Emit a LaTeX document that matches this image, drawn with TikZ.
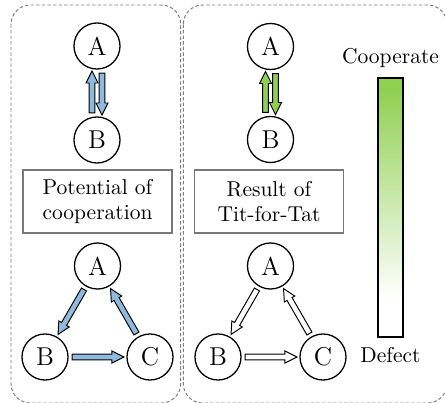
\documentclass[tikz,border=0pt]{standalone}
\usetikzlibrary{calc}
\definecolor{arrblue}{RGB}{143,186,222}
\definecolor{arrgreen}{RGB}{143,208,80}
\definecolor{panelgray}{RGB}{125,125,125}
\definecolor{boxgray}{RGB}{120,120,120}
% #1 style, #2 from node, #3 to node, #4 start gap (pt), #5 end gap (pt), #6 lateral offset (pt)
\newcommand\fatarrow[6]{%
  \pgfpointdiff{\pgfpointanchor{#2}{center}}{\pgfpointanchor{#3}{center}}%
  \pgfgetlastxy{\faDx}{\faDy}%
  \pgfmathsetmacro\faAng{atan2(\faDy,\faDx)}%
  \pgfmathsetmacro\faLen{veclen(\faDx,\faDy)}%
  \pgfmathsetmacro\faE{\faLen-#5}%
  \pgfmathsetmacro\faB{\faE-5.6}%
  \pgfmathsetmacro\faYl{#6-1.35}%
  \pgfmathsetmacro\faYr{#6+1.35}%
  \pgfmathsetmacro\faHl{#6-2.8}%
  \pgfmathsetmacro\faHr{#6+2.8}%
  \begin{scope}[shift={(#2.center)},rotate=\faAng]
    \draw[#1] ({#4*1pt},{\faYl*1pt}) -- ({\faB*1pt},{\faYl*1pt}) -- ({\faB*1pt},{\faHl*1pt})
      -- ({\faE*1pt},{#6*1pt}) -- ({\faB*1pt},{\faHr*1pt}) -- ({\faB*1pt},{\faYr*1pt})
      -- ({#4*1pt},{\faYr*1pt}) -- cycle;
  \end{scope}}
\begin{document}
\begin{tikzpicture}[x=0.465pt,y=-0.465pt,
  vert/.style={circle,draw,line width=0.6pt,minimum size=21.4pt,inner sep=0pt,font=\large},
  panel/.style={draw=panelgray,dash pattern=on 1.6pt off 1pt,line width=0.45pt,rounded corners=9pt},
  labelbox/.style={draw=boxgray,line width=0.5pt,minimum width=69.3pt,minimum height=29.3pt,align=center,inner sep=0pt},
  bluearr/.style={draw=black,line width=0.45pt,fill=arrblue,line join=miter},
  greenarr/.style={draw=black,line width=0.45pt,fill=arrgreen,line join=miter},
  openarr/.style={draw=black,line width=0.45pt,fill=white,line join=miter}]
\useasboundingbox (0,0) rectangle (445,402);
\begin{scope}
  \clip (0,0) rectangle (445,402);
  \draw[panel] (11,5) rectangle (180.7,403);
  \draw[panel] (183.3,5) rectangle (447,403);
\end{scope}
% left panel
\node[vert] (A1) at (97,46) {A};
\node[vert] (B1) at (97,140) {B};
\node[labelbox] (P) at (97.5,201.5) {Potential of\\cooperation};
\node[vert] (A2) at (97.5,266) {A};
\node[vert] (B2) at (45,357) {B};
\node[vert] (C2) at (150,357) {C};
\fatarrow{bluearr}{B1}{A1}{12.6}{11.6}{2.3}
\fatarrow{bluearr}{A1}{B1}{12.6}{11.6}{2.3}
\fatarrow{bluearr}{A2}{B2}{12.6}{12.1}{0}
\fatarrow{bluearr}{B2}{C2}{12.6}{12.1}{0}
\fatarrow{bluearr}{C2}{A2}{12.6}{12.1}{0}
% right panel
\node[vert] (A3) at (270.5,46.5) {A};
\node[vert] (B3) at (270.5,139.5) {B};
\node[labelbox] (R) at (269,201.5) {Result of\\Tit-for-Tat};
\node[vert] (A4) at (270.5,266) {A};
\node[vert] (B4) at (218,357) {B};
\node[vert] (C4) at (323,357) {C};
\fatarrow{greenarr}{B3}{A3}{12.6}{11.6}{2.3}
\fatarrow{greenarr}{A3}{B3}{12.6}{11.6}{2.3}
\fatarrow{openarr}{A4}{B4}{12.6}{12.1}{0}
\fatarrow{openarr}{B4}{C4}{12.6}{12.1}{0}
\fatarrow{openarr}{C4}{A4}{12.6}{12.1}{0}
% colour bar
\fill[white] (378,78) rectangle (403,337);
\fill[arrgreen] (378,78) rectangle (403,88);
\shade[top color=arrgreen,middle color=arrgreen!60!white,bottom color=white] (378,87.5) rectangle (403,300);
\draw[line width=0.5pt] (378,78) rectangle (403,337);
\node (coop) at (390.5,58) {Cooperate};
\node (def) at (390.5,355) {Defect};
\end{tikzpicture}
\end{document}
